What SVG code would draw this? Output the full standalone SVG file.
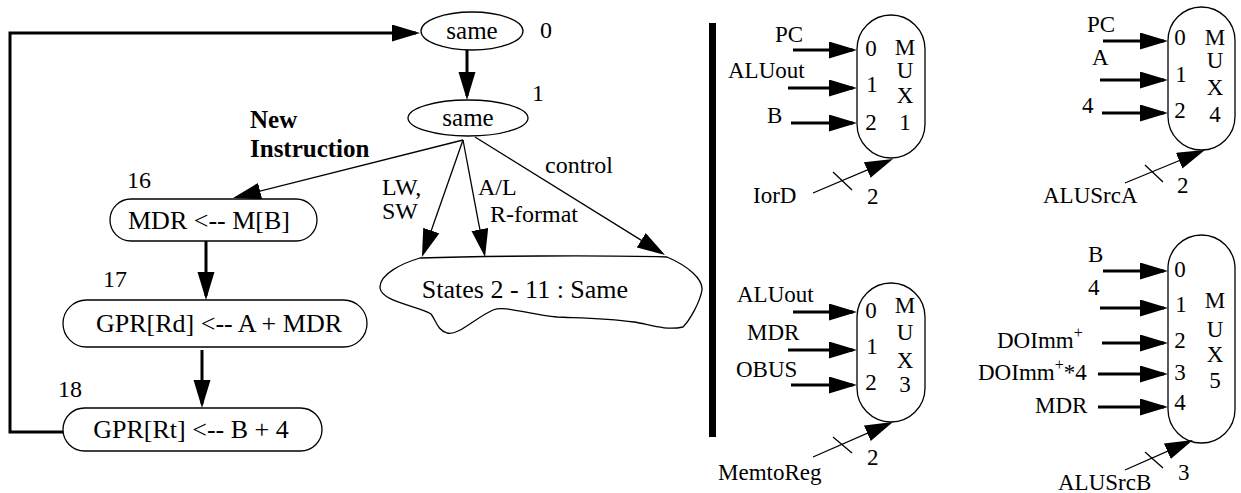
<svg xmlns="http://www.w3.org/2000/svg" width="1241" height="493" viewBox="0 0 1241 493">
  <style>
    text { font-family: "Liberation Serif", "Times New Roman", serif; fill: #000; }
    .nt { font-size: 26px; text-anchor: middle; }
    .et { font-size: 25px; text-anchor: middle; }
    .lb { font-size: 24px; }
    .bold { font-size: 25px; font-weight: bold; }
    .mx { font-size: 23px; text-anchor: middle; }
    .ml { font-size: 23px; }
    .shape { fill: #fff; stroke: #000; stroke-width: 1.3; }
    .thick { fill: none; stroke: #000; stroke-width: 3; marker-end: url(#ah); }
    .thin { fill: none; stroke: #000; stroke-width: 1.3; marker-end: url(#ah); }
    .tick { fill: none; stroke: #000; stroke-width: 1.3; }
  </style>
  <defs>
    <marker id="ah" markerUnits="userSpaceOnUse" markerWidth="30" markerHeight="18" refX="24" refY="8.5" orient="auto">
      <path d="M0,0 L28,8.5 L0,17 Z" fill="#000"/>
    </marker>
  </defs>

  <rect width="1241" height="493" fill="#fff"/>

  <!-- state machine connectors -->
  <g id="connectors">
    <path class="thick" d="M63,432 H10 V33 H416"/>
    <path class="thick" d="M467,50 V96"/>
    <path class="thick" d="M206,241 V296"/>
    <path class="thick" d="M202,350 V404"/>
    <path class="thin" d="M463,140 L236.9,197"/>
    <path class="thin" d="M463,140 L423.3,253.2"/>
    <path class="thin" d="M463,140 L484.3,253.1"/>
    <path class="thin" d="M475,137 L661.6,252.9"/>
  </g>

  <!-- states -->
  <g id="state0">
    <ellipse class="shape" cx="472" cy="31" rx="51" ry="19"/>
    <text class="et" x="472" y="39">same</text>
    <text class="lb" x="540" y="38">0</text>
  </g>
  <g id="state1">
    <ellipse class="shape" cx="468" cy="118" rx="60" ry="18"/>
    <text class="et" x="468" y="126">same</text>
    <text class="lb" x="532" y="101">1</text>
  </g>
  <g id="state16">
    <rect class="shape" x="110" y="199" width="207" height="42" rx="21"/>
    <text class="nt" x="209" y="229">MDR &lt;-- M[B]</text>
    <text class="lb" x="127" y="188">16</text>
  </g>
  <g id="state17">
    <rect class="shape" x="63" y="300" width="304" height="47" rx="23.5"/>
    <text class="nt" x="219" y="332">GPR[Rd] &lt;-- A + MDR</text>
    <text class="lb" x="103" y="287">17</text>
  </g>
  <g id="state18">
    <rect class="shape" x="63" y="408" width="259" height="43" rx="21.5"/>
    <text class="nt" x="191" y="438">GPR[Rt] &lt;-- B + 4</text>
    <text class="lb" x="58" y="397">18</text>
  </g>
  <g id="states-2-11">
    <path class="shape" d="M420,258 C480,256 600,255 667,257 C688,266 703,279 702,290 C700,302 690,320 683,327 C665,331 648,324 634,322 C605,318 580,318 557,317 C530,315 505,305 493,310 C475,318 458,336 447,333 C437,330 436,320 431,314 C418,306 382,302 380,288 C379,274 403,263 420,258 Z"/>
    <text class="nt" x="525" y="298">States 2 - 11 : Same</text>
  </g>

  <!-- edge labels -->
  <g id="labels">
    <text class="bold" x="250" y="128">New</text>
    <text class="bold" x="250" y="157">Instruction</text>
    <text class="lb" x="382" y="195">LW,</text>
    <text class="lb" x="382" y="219">SW</text>
    <text class="lb" x="478" y="195">A/L</text>
    <text class="lb" x="490" y="222">R-format</text>
    <text class="lb" x="545" y="173">control</text>
  </g>

  <!-- separator -->
  <rect id="separator" x="709" y="23" width="7" height="414" fill="#000"/>

  <!-- MUX 1 -->
  <g id="mux1">
    <rect class="shape" x="857" y="15" width="68" height="143" rx="34"/>
    <path class="thick" d="M793,50 H853"/>
    <path class="thick" d="M788,88 H853"/>
    <path class="thick" d="M791,123 H853"/>
    <path class="thin" d="M813,193 L889.3,160.6"/>
    <path class="tick" d="M833,172 L852,190"/>
    <text class="ml" x="775" y="42">PC</text>
    <text class="ml" x="728" y="78">ALUout</text>
    <text class="ml" x="767" y="123">B</text>
    <text class="ml" x="753" y="203">IorD</text>
    <text class="ml" x="867" y="204">2</text>
    <text class="mx" x="871" y="56">0</text>
    <text class="mx" x="872" y="92">1</text>
    <text class="mx" x="871" y="130">2</text>
    <text class="mx" x="905" y="55">M</text>
    <text class="mx" x="905" y="78">U</text>
    <text class="mx" x="905" y="103">X</text>
    <text class="mx" x="905" y="130">1</text>
  </g>

  <!-- MUX 3 -->
  <g id="mux3">
    <rect class="shape" x="857" y="283" width="68" height="139" rx="34"/>
    <path class="thick" d="M793,312 H853"/>
    <path class="thick" d="M788,350 H853"/>
    <path class="thick" d="M791,385 H853"/>
    <path class="thin" d="M813,457 L889.3,423.6"/>
    <path class="tick" d="M833,437 L852,453"/>
    <text class="ml" x="737" y="302">ALUout</text>
    <text class="ml" x="747" y="340">MDR</text>
    <text class="ml" x="736" y="377">OBUS</text>
    <text class="ml" x="718" y="480">MemtoReg</text>
    <text class="ml" x="867" y="465">2</text>
    <text class="mx" x="871" y="318">0</text>
    <text class="mx" x="872" y="354">1</text>
    <text class="mx" x="871" y="390">2</text>
    <text class="mx" x="905" y="313">M</text>
    <text class="mx" x="905" y="340">U</text>
    <text class="mx" x="905" y="368">X</text>
    <text class="mx" x="905" y="392">3</text>
  </g>

  <!-- MUX 4 -->
  <g id="mux4">
    <rect class="shape" x="1168" y="7" width="67" height="143" rx="33.5"/>
    <path class="thick" d="M1103,41 H1164"/>
    <path class="thick" d="M1100,80 H1164"/>
    <path class="thick" d="M1102,113 H1164"/>
    <path class="thin" d="M1125,183 L1201.3,151.5"/>
    <path class="tick" d="M1145,165 L1163,182"/>
    <text class="ml" x="1087" y="32">PC</text>
    <text class="ml" x="1092" y="65">A</text>
    <text class="ml" x="1082" y="113">4</text>
    <text class="ml" x="1043" y="203">ALUSrcA</text>
    <text class="ml" x="1177" y="193">2</text>
    <text class="mx" x="1180" y="45">0</text>
    <text class="mx" x="1181" y="82">1</text>
    <text class="mx" x="1180" y="118">2</text>
    <text class="mx" x="1215" y="45">M</text>
    <text class="mx" x="1215" y="68">U</text>
    <text class="mx" x="1215" y="95">X</text>
    <text class="mx" x="1215" y="122">4</text>
  </g>

  <!-- MUX 5 -->
  <g id="mux5">
    <rect class="shape" x="1168" y="235" width="67" height="208" rx="33.5"/>
    <path class="thick" d="M1103,271 H1164"/>
    <path class="thick" d="M1100,308 H1164"/>
    <path class="thick" d="M1102,343 H1164"/>
    <path class="thick" d="M1098,374 H1164"/>
    <path class="thick" d="M1098,407 H1164"/>
    <path class="thin" d="M1125,470 L1189.3,441.6"/>
    <path class="tick" d="M1145,452 L1163,468"/>
    <text class="ml" x="1088" y="262">B</text>
    <text class="ml" x="1088" y="295">4</text>
    <text class="ml" x="997" y="348">DOImm<tspan dy="-10" font-size="16">+</tspan></text>
    <text class="ml" x="978" y="380">DOImm<tspan dy="-10" font-size="16">+</tspan><tspan dy="10">*4</tspan></text>
    <text class="ml" x="1035" y="413">MDR</text>
    <text class="ml" x="1058" y="490">ALUSrcB</text>
    <text class="ml" x="1178" y="480">3</text>
    <text class="mx" x="1180" y="277">0</text>
    <text class="mx" x="1181" y="312">1</text>
    <text class="mx" x="1180" y="348">2</text>
    <text class="mx" x="1180" y="380">3</text>
    <text class="mx" x="1180" y="410">4</text>
    <text class="mx" x="1215" y="308">M</text>
    <text class="mx" x="1215" y="337">U</text>
    <text class="mx" x="1215" y="362">X</text>
    <text class="mx" x="1215" y="388">5</text>
  </g>
</svg>
